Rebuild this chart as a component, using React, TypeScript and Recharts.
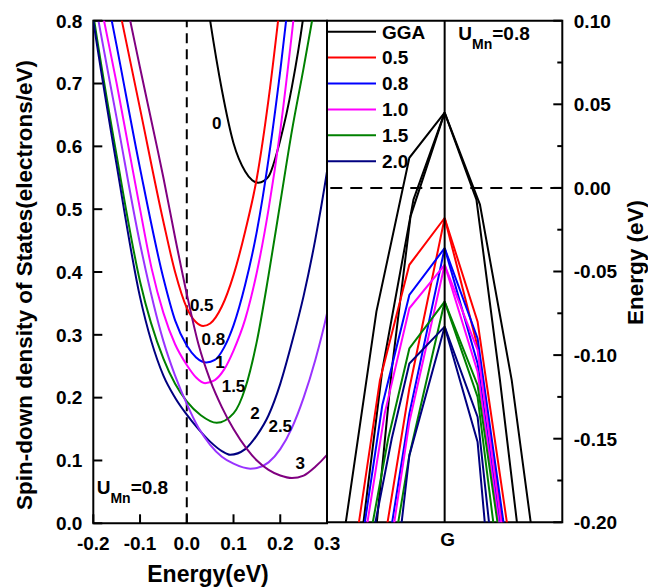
import React from 'react';
import {
  LineChart,
  Line,
  XAxis,
  YAxis,
  ReferenceLine,
  ReferenceArea,
  ReferenceDot,
  Customized,
} from 'recharts';

const FONT = '"Liberation Sans", Arial, Helvetica, sans-serif';

type Pt = [number, number];

// ---------------- Left panel: spin-down DOS ----------------
const dosXTicks = [-0.2, -0.1, 0, 0.1, 0.2, 0.3];
const dosYTicks = [0, 0.1, 0.2, 0.3, 0.4, 0.5, 0.6, 0.7, 0.8];
const dosCurveLabels = ['0', '0.5', '0.8', '1', '1.5', '2', '2.5', '3'];
const dosColors = ['#000000', '#ff0000', '#0000ff', '#ff00ff', '#008000', '#000080', '#9933ff', '#800080'];

const dosU0: Pt[] = [[0.04, 0.85], [0.05, 0.8], [0.075, 0.69], [0.1, 0.605], [0.125, 0.56], [0.14, 0.546], [0.153, 0.542], [0.165, 0.545], [0.175, 0.552], [0.2, 0.61], [0.225, 0.695], [0.25, 0.81], [0.26, 0.87]];
const dosU05: Pt[] = [[-0.2, 1.02], [-0.15, 0.84], [-0.1, 0.66], [-0.05, 0.48], [-0.025, 0.4], [0, 0.343], [0.02, 0.32], [0.035, 0.314], [0.05, 0.318], [0.075, 0.345], [0.1, 0.395], [0.125, 0.465], [0.15, 0.55], [0.175, 0.675], [0.2, 0.83]];
const dosU08: Pt[] = [[-0.2, 0.95], [-0.15, 0.76], [-0.1, 0.565], [-0.05, 0.39], [-0.025, 0.323], [0, 0.283], [0.02, 0.264], [0.042, 0.256], [0.06, 0.26], [0.08, 0.28], [0.1, 0.315], [0.125, 0.38], [0.15, 0.465], [0.175, 0.58], [0.2, 0.72], [0.225, 0.88]];
const dosU10: Pt[] = [[-0.2, 0.885], [-0.177, 0.8], [-0.15, 0.7], [-0.125, 0.6], [-0.1, 0.5], [-0.075, 0.405], [-0.05, 0.335], [-0.025, 0.285], [0, 0.252], [0.02, 0.232], [0.039, 0.223], [0.06, 0.228], [0.08, 0.245], [0.1, 0.275], [0.125, 0.325], [0.15, 0.4], [0.175, 0.5], [0.2, 0.625], [0.228, 0.8], [0.24, 0.88]];
const dosU15: Pt[] = [[-0.21, 0.86], [-0.2, 0.81], [-0.15, 0.585], [-0.1, 0.385], [-0.05, 0.262], [-0.025, 0.222], [0, 0.194], [0.03, 0.172], [0.064, 0.16], [0.1, 0.175], [0.125, 0.215], [0.15, 0.29], [0.175, 0.395], [0.2, 0.51], [0.225, 0.625], [0.25, 0.725], [0.268, 0.8], [0.28, 0.85]];
const dosU20: Pt[] = [[-0.21, 0.85], [-0.2, 0.8], [-0.15, 0.57], [-0.1, 0.36], [-0.05, 0.235], [-0.025, 0.2], [0, 0.173], [0.025, 0.15], [0.05, 0.13], [0.075, 0.115], [0.093, 0.109], [0.125, 0.118], [0.15, 0.14], [0.175, 0.172], [0.2, 0.222], [0.225, 0.288], [0.25, 0.362], [0.275, 0.452], [0.3, 0.56], [0.31, 0.61]];
const dosU25: Pt[] = [[-0.21, 0.89], [-0.189, 0.8], [-0.15, 0.645], [-0.1, 0.445], [-0.05, 0.29], [-0.025, 0.235], [0, 0.19], [0.025, 0.152], [0.05, 0.125], [0.075, 0.106], [0.1, 0.095], [0.136, 0.087], [0.15, 0.088], [0.175, 0.097], [0.2, 0.118], [0.225, 0.152], [0.25, 0.2], [0.275, 0.26], [0.3, 0.334], [0.31, 0.37]];
const dosU30: Pt[] = [[-0.15, 0.9], [-0.121, 0.8], [-0.1, 0.725], [-0.064, 0.6], [-0.05, 0.55], [-0.025, 0.455], [0, 0.365], [0.025, 0.285], [0.05, 0.228], [0.075, 0.185], [0.1, 0.15], [0.128, 0.119], [0.15, 0.1], [0.175, 0.085], [0.2, 0.076], [0.225, 0.072], [0.25, 0.076], [0.275, 0.09], [0.3, 0.109], [0.31, 0.118]];

const dosCurves = [dosU0, dosU05, dosU08, dosU10, dosU15, dosU20, dosU25, dosU30];

// ---------------- Right panel: band structure near G ----------------
const energyTicks = [0.1, 0.075, 0.05, 0.025, 0, -0.025, -0.05, -0.075, -0.1, -0.125, -0.15, -0.175, -0.2];
const kTicks = [0];
const kTickLabels = ['G'];
const legendNames = ['GGA', '0.5', '0.8', '1.0', '1.5', '2.0'];
const legendColors = ['#000000', '#ff0000', '#0000ff', '#ff00ff', '#008000', '#000080'];

const bandsGGA: Pt[][] = [
  [[-0.9, -0.229], [-0.58, -0.074], [-0.3, 0.018], [0, 0.045]],
  [[-0.72, -0.217], [-0.53, -0.109], [-0.265, -0.007], [0, 0.045]],
  [[-0.6, -0.217], [-0.45, -0.109], [-0.29, -0.017], [0, 0.045]],
  [[0, 0.045], [0.27, -0.007], [0.47, -0.115], [0.64, -0.215]],
  [[0, 0.045], [0.3, -0.01], [0.57, -0.115], [0.76, -0.215]],
];
const bandsU05: Pt[][] = [
  [[-0.76, -0.215], [-0.55, -0.115], [-0.3, -0.046], [0, -0.018]],
  [[-0.52, -0.215], [-0.3, -0.12], [0, -0.018]],
  [[0, -0.018], [0.28, -0.08], [0.56, -0.215]],
  [[0, -0.018], [0.28, -0.095], [0.52, -0.215]],
];
const bandsU08: Pt[][] = [
  [[-0.71, -0.215], [-0.53, -0.13], [-0.3, -0.064], [0, -0.036]],
  [[-0.48, -0.215], [-0.3, -0.135], [0, -0.036]],
  [[0, -0.036], [0.28, -0.09], [0.53, -0.215]],
  [[0, -0.036], [0.28, -0.105], [0.5, -0.215]],
];
const bandsU10: Pt[][] = [
  [[-0.69, -0.215], [-0.51, -0.135], [-0.3, -0.072], [0, -0.046]],
  [[-0.46, -0.215], [-0.3, -0.14], [0, -0.046]],
  [[0, -0.046], [0.28, -0.097], [0.51, -0.215]],
  [[0, -0.046], [0.28, -0.11], [0.49, -0.215]],
];
const bandsU15: Pt[][] = [
  [[-0.65, -0.215], [-0.48, -0.15], [-0.3, -0.096], [0, -0.068]],
  [[-0.43, -0.215], [-0.3, -0.16], [0, -0.068]],
  [[0, -0.068], [0.28, -0.118], [0.48, -0.215]],
  [[0, -0.068], [0.28, -0.125], [0.44, -0.215]],
];
const bandsU20: Pt[][] = [
  [[-0.63, -0.215], [-0.45, -0.15], [-0.3, -0.105], [0, -0.083]],
  [[-0.39, -0.215], [-0.3, -0.16], [0, -0.083]],
  [[0, -0.083], [0.28, -0.137], [0.4, -0.215]],
  [[0, -0.083], [0.28, -0.152], [0.36, -0.215]],
];
const bandSets = [bandsGGA, bandsU05, bandsU08, bandsU10, bandsU15, bandsU20];

const toXY = (arr: Pt[]) => arr.map(([x, y]) => ({ x, y }));
const toKE = (arr: Pt[]) => arr.map(([k, e]) => ({ k, e }));

const txt = { fontFamily: FONT, fontWeight: 'bold' as const, fill: '#000' };

function DosYTick(props: any) {
  const { x, y, payload } = props;
  return (
    <g>
      <line x1={x} x2={x + 9} y1={y} y2={y} stroke="#000" strokeWidth={2} />
      <text x={x - 11} y={y} dy="0.36em" textAnchor="end" fontSize={19} {...txt}>
        {Number(payload.value).toFixed(1)}
      </text>
    </g>
  );
}

function DosXTick(props: any) {
  const { x, y, payload } = props;
  return (
    <g>
      <line x1={x} x2={x} y1={y} y2={y - 9} stroke="#000" strokeWidth={2} />
      <text x={x} y={y + 13.5} dy="0.71em" textAnchor="middle" fontSize={19} {...txt}>
        {Number(payload.value).toFixed(1)}
      </text>
    </g>
  );
}

function EnergyTick(props: any) {
  const { x, y, payload, index } = props;
  const major = index % 2 === 0;
  return (
    <g>
      <line x1={x} x2={x - (major ? 9 : 5)} y1={y} y2={y} stroke="#000" strokeWidth={2} />
      {major && (
        <text x={x + 11.5} y={y} dy="0.36em" textAnchor="start" fontSize={19} {...txt}>
          {Math.abs(payload.value) < 1e-9 ? '0.00' : Number(payload.value).toFixed(2)}
        </text>
      )}
    </g>
  );
}

function KTick(props: any) {
  const { x, y, index } = props;
  return (
    <text x={x + 3} y={y + 10.5} dy="0.71em" textAnchor="middle" fontSize={19} {...txt}>
      {kTickLabels[index]}
    </text>
  );
}

function LeftDecor() {
  return (
    <g>
      <text
        x={24}
        y={285}
        dy="0.36em"
        textAnchor="middle"
        transform="rotate(-90, 24, 285)"
        fontSize={22.5}
        {...txt}
      >
        Spin-down density of States(electrons/eV)
      </text>
      <text x={208} y={582} textAnchor="middle" fontSize={23} {...txt}>
        Energy(eV)
      </text>
      <text x={96.7} y={494} fontSize={19} {...txt}>
        <tspan>U</tspan>
        <tspan fontSize={14} dy={8.5}>Mn</tspan>
        <tspan dy={-8.5}>=0.8</tspan>
      </text>
    </g>
  );
}

function RightDecor() {
  return (
    <g>
      {legendNames.map((name, i) => {
        const yy = 31.7 + i * 25.9;
        return (
          <g key={name}>
            <line x1={28} x2={76} y1={yy} y2={yy} stroke={legendColors[i]} strokeWidth={2} />
            <text x={82} y={yy} dy="0.36em" fontSize={19} {...txt}>
              {name}
            </text>
          </g>
        );
      })}
      <text x={158.3} y={40} fontSize={19} {...txt}>
        <tspan>U</tspan>
        <tspan fontSize={14} dy={9}>Mn</tspan>
        <tspan dy={-9}>=0.8</tspan>
      </text>
      <text
        x={334.5}
        y={262.5}
        dy="0.36em"
        textAnchor="middle"
        transform="rotate(-90, 334.5, 262.5)"
        fontSize={22.5}
        {...txt}
      >
        Energy (eV)
      </text>
    </g>
  );
}

const curveLabelStyle = { position: 'center' as const, fontSize: 17, fontWeight: 'bold', fill: '#000', fontFamily: FONT };

function DosChart() {
  return (
    <LineChart width={340} height={587} margin={{ top: 20.7, right: 13, bottom: 0, left: 0 }}>
      <XAxis
        type="number"
        dataKey="x"
        domain={[-0.2, 0.3]}
        ticks={dosXTicks}
        interval={0}
        allowDataOverflow
        height={63.7}
        axisLine={false}
        tickLine={false}
        tickSize={0}
        tickMargin={0}
        tick={(p: any) => <DosXTick {...p} />}
      />
      <YAxis
        type="number"
        dataKey="y"
        domain={[0, 0.8]}
        ticks={dosYTicks}
        interval={0}
        allowDataOverflow
        width={93.3}
        axisLine={false}
        tickLine={false}
        tickSize={0}
        tickMargin={0}
        tick={(p: any) => <DosYTick {...p} />}
      />
      <ReferenceLine x={0} stroke="#000" strokeWidth={2} strokeDasharray="10 6" />
      {dosCurves.map((c, i) => (
        <Line
          key={dosCurveLabels[i]}
          data={toXY(c)}
          dataKey="y"
          type="monotone"
          stroke={dosColors[i]}
          strokeWidth={2}
          dot={false}
          activeDot={false}
          isAnimationActive={false}
        />
      ))}
      <ReferenceArea x1={-0.2} x2={0.3} y1={0} y2={0.8} fill="none" fillOpacity={0} stroke="#000" strokeWidth={2} ifOverflow="visible" />
      <ReferenceDot x={0.064} y={0.637} r={0} fill="none" stroke="none" label={{ value: dosCurveLabels[0], ...curveLabelStyle }} />
      <ReferenceDot x={0.032} y={0.348} r={0} fill="none" stroke="none" label={{ value: dosCurveLabels[1], ...curveLabelStyle }} />
      <ReferenceDot x={0.057} y={0.293} r={0} fill="none" stroke="none" label={{ value: dosCurveLabels[2], ...curveLabelStyle }} />
      <ReferenceDot x={0.071} y={0.257} r={0} fill="none" stroke="none" label={{ value: dosCurveLabels[3], ...curveLabelStyle }} />
      <ReferenceDot x={0.1} y={0.219} r={0} fill="none" stroke="none" label={{ value: dosCurveLabels[4], ...curveLabelStyle }} />
      <ReferenceDot x={0.146} y={0.175} r={0} fill="none" stroke="none" label={{ value: dosCurveLabels[5], ...curveLabelStyle }} />
      <ReferenceDot x={0.2} y={0.155} r={0} fill="none" stroke="none" label={{ value: dosCurveLabels[6], ...curveLabelStyle }} />
      <ReferenceDot x={0.243} y={0.096} r={0} fill="none" stroke="none" label={{ value: dosCurveLabels[7], ...curveLabelStyle }} />
      <Customized component={LeftDecor} />
    </LineChart>
  );
}

function BandChart() {
  return (
    <LineChart width={348} height={587} margin={{ top: 20.7, right: 0, bottom: 0, left: 27 }}>
      <XAxis
        type="number"
        dataKey="k"
        domain={[-1, 1]}
        ticks={kTicks}
        interval={0}
        allowDataOverflow
        height={64.7}
        axisLine={false}
        tickLine={false}
        tickSize={0}
        tickMargin={0}
        tick={(p: any) => <KTick {...p} />}
      />
      <YAxis
        type="number"
        dataKey="e"
        orientation="right"
        domain={[-0.2, 0.1]}
        ticks={energyTicks}
        interval={0}
        allowDataOverflow
        width={85.7}
        axisLine={false}
        tickLine={false}
        tickSize={0}
        tickMargin={0}
        tick={(p: any) => <EnergyTick {...p} />}
      />
      <ReferenceLine y={0} stroke="#000" strokeWidth={2} strokeDasharray="12 8" />
      {bandSets.map((set, si) =>
        set.map((b, bi) => (
          <Line
            key={`${legendNames[si]}-${bi}`}
            data={toKE(b)}
            dataKey="e"
            type="linear"
            stroke={legendColors[si]}
            strokeWidth={2}
            dot={false}
            activeDot={false}
            isAnimationActive={false}
          />
        ))
      )}
      <ReferenceLine x={0} stroke="#000" strokeWidth={2} />
      <ReferenceArea x1={-1} x2={1} y1={-0.2} y2={0.1} fill="none" fillOpacity={0} stroke="#000" strokeWidth={2} ifOverflow="visible" />
      <Customized component={RightDecor} />
    </LineChart>
  );
}

export default function App() {
  return (
    <div style={{ position: 'absolute', left: 0, top: 0, width: 648, height: 587, background: '#fff', overflow: 'hidden' }}>
      <div style={{ position: 'absolute', left: 0, top: 0 }}>
        <DosChart />
      </div>
      <div style={{ position: 'absolute', left: 300, top: 0 }}>
        <BandChart />
      </div>
    </div>
  );
}
